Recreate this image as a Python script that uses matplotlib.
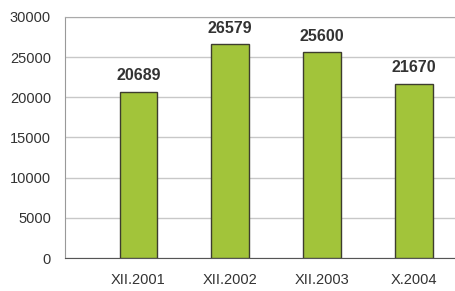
import matplotlib

matplotlib.use("Agg")
import matplotlib.pyplot as plt

plt.rcParams["font.family"] = ["Liberation Sans", "DejaVu Sans"]

categories = ["XII.2001", "XII.2002", "XII.2003", "X.2004"]
values = [20689, 26579, 25600, 21670]
y_ticks = [0, 5000, 10000, 15000, 20000, 25000, 30000]

fig = plt.figure(figsize=(4.56, 2.91), dpi=100)
ax = fig.add_axes([0.1425, 0.1134, 0.8575, 0.8282])

positions = list(range(len(categories)))
ax.bar(positions, values, width=0.41, color="#a2c43a",
       edgecolor="#3d3d2e", linewidth=1.0, zorder=3)

for pos, val in zip(positions, values):
    ax.text(pos, val + 1100, str(val), ha="center", va="bottom",
            fontsize=11.5, fontweight="bold", color="#333333")

ax.set_xlim(-0.8, 3.46)
ax.set_ylim(0, 30000)
ax.set_yticks(y_ticks)
ax.set_xticks(positions)
ax.set_xticklabels(categories)
ax.tick_params(axis="both", length=0, labelsize=10.5, colors="#333333")
ax.tick_params(axis="x", pad=11)
ax.tick_params(axis="y", pad=10)
ax.yaxis.grid(True, color="#c8c8c8", linewidth=1.0, zorder=0)

ax.spines["right"].set_visible(False)
ax.spines["top"].set_color("#aaaaaa")
ax.spines["left"].set_color("#999999")
ax.spines["bottom"].set_color("#555555")

fig.savefig("out.png", dpi=100)
